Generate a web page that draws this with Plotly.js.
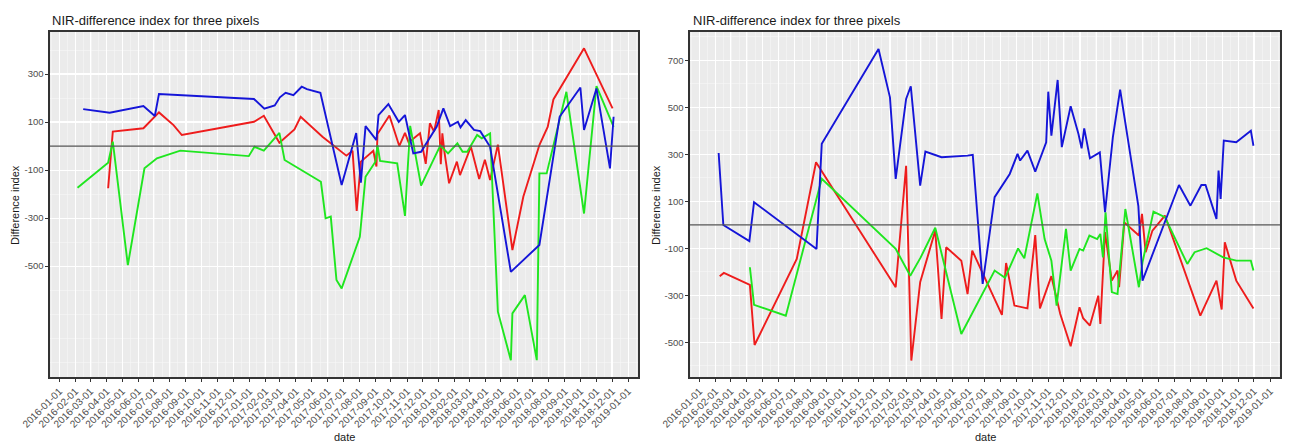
<!DOCTYPE html>
<html>
<head>
<meta charset="utf-8">
<script src="https://cdn.plot.ly/plotly-3.0.1.min.js"></script>
<style>
  html, body { margin: 0; padding: 0; background: #ffffff; }
  #chart { width: 1289px; height: 445px; }
</style>
</head>
<body>
<div id="chart"></div>
<script>
// ---- Left panel: NIR-difference index, three pixels ----
const leftBlueDates = ['2016-02-16','2016-04-07','2016-06-11','2016-07-03','2016-07-11','2017-01-10','2017-01-30','2017-02-19','2017-03-01','2017-03-12','2017-03-27','2017-04-12','2017-04-22','2017-05-18','2017-06-28','2017-07-26','2017-08-04','2017-08-13','2017-09-03','2017-09-07','2017-09-26','2017-10-16','2017-10-28','2017-11-13','2017-11-28','2017-12-28','2018-01-10','2018-01-23','2018-02-07','2018-02-12','2018-02-22','2018-03-10','2018-03-22','2018-04-10','2018-05-20','2018-07-14','2018-08-22','2018-10-01','2018-10-08','2018-11-01','2018-11-27','2018-12-04'];
const leftBlueValues = [154,139,167,125,217,196,156,169,203,222,212,247,237,222,-162,54,-153,83,25,129,175,101,129,-31,-24,80,157,83,101,78,108,67,62,-3,-524,-412,122,244,67,240,-93,122];

const leftRedDates = ['2016-04-04','2016-04-09','2016-04-13','2016-06-11','2016-07-11','2016-08-08','2016-08-24','2017-01-10','2017-01-29','2017-02-28','2017-03-29','2017-04-10','2017-05-22','2017-07-07','2017-07-19','2017-07-27','2017-08-04','2017-08-28','2017-09-03','2017-09-05','2017-09-28','2017-10-17','2017-10-28','2017-11-04','2017-11-26','2017-12-07','2017-12-15','2017-12-23','2018-01-01','2018-01-05','2018-01-08','2018-01-12','2018-01-21','2018-02-05','2018-02-11','2018-03-04','2018-03-20','2018-03-31','2018-04-10','2018-04-25','2018-05-23','2018-06-13','2018-07-14','2018-07-30','2018-08-10','2018-10-08','2018-12-02'];
const leftRedValues = [-176,-45,60,74,140,87,46,101,126,14,69,122,39,-40,-20,-270,-65,-20,-85,50,127,0,55,15,53,-74,95,60,150,-76,53,-24,-155,-65,-121,-3,-137,-57,-142,6,-433,-211,4,80,194,407,157];

const leftGreenDates = ['2016-02-05','2016-04-04','2016-04-13','2016-05-12','2016-06-13','2016-07-07','2016-08-21','2016-12-31','2017-01-11','2017-01-29','2017-02-28','2017-03-10','2017-05-19','2017-05-28','2017-06-07','2017-06-18','2017-06-28','2017-08-02','2017-08-13','2017-09-01','2017-09-05','2017-09-10','2017-10-13','2017-10-28','2017-11-07','2017-11-28','2018-01-04','2018-01-19','2018-02-06','2018-02-16','2018-02-25','2018-03-16','2018-03-25','2018-04-10','2018-04-25','2018-05-20','2018-05-23','2018-06-16','2018-07-09','2018-07-14','2018-07-28','2018-09-04','2018-10-08','2018-11-01','2018-12-04'];
const leftGreenValues = [-174,-69,18,-496,-93,-51,-19,-42,-3,-19,55,-58,-149,-301,-294,-558,-593,-378,-128,-65,4,-62,-72,-291,84,-165,2,-31,11,-24,-24,46,32,53,-690,-892,-697,-621,-892,-114,-114,226,-281,250,80];

// ---- Right panel: NIR-difference index, three pixels ----
const rightBlueDates = ['2016-02-07','2016-02-16','2016-04-06','2016-04-15','2016-08-13','2016-08-23','2016-12-10','2017-01-01','2017-01-12','2017-02-01','2017-02-10','2017-02-28','2017-03-10','2017-04-10','2017-05-30','2017-06-09','2017-06-28','2017-07-21','2017-08-19','2017-09-03','2017-09-08','2017-09-22','2017-10-07','2017-10-28','2017-11-01','2017-11-07','2017-11-19','2017-11-27','2017-12-14','2017-12-29','2018-01-04','2018-01-09','2018-01-20','2018-02-08','2018-02-18','2018-03-05','2018-03-19','2018-04-23','2018-05-01','2018-07-10','2018-08-01','2018-08-22','2018-08-30','2018-09-20','2018-09-24','2018-09-28','2018-10-04','2018-10-28','2018-11-25','2018-11-30'];
const rightBlueValues = [306,0,-69,97,-102,345,749,543,196,536,590,167,312,288,295,298,-251,118,217,302,274,316,227,352,567,380,617,331,505,387,326,411,284,309,54,373,576,80,-237,170,82,170,170,26,231,111,359,352,401,337];

const rightRedDates = ['2016-02-09','2016-02-17','2016-04-07','2016-04-16','2016-07-06','2016-08-12','2017-01-12','2017-02-01','2017-02-11','2017-02-28','2017-03-29','2017-04-10','2017-04-19','2017-05-18','2017-05-30','2017-06-08','2017-08-04','2017-08-12','2017-08-28','2017-09-22','2017-10-07','2017-10-16','2017-11-07','2017-11-24','2017-12-14','2017-12-31','2018-01-07','2018-01-20','2018-02-05','2018-02-09','2018-02-18','2018-03-03','2018-03-14','2018-03-17','2018-03-27','2018-04-24','2018-04-30','2018-05-07','2018-05-20','2018-06-13','2018-08-20','2018-09-20','2018-09-30','2018-10-06','2018-10-28','2018-11-30'];
const rightRedValues = [-218,-204,-255,-511,-145,267,-265,252,-577,-244,-24,-400,-95,-152,-294,-109,-383,-162,-343,-355,-43,-355,-218,-379,-516,-350,-397,-428,-301,-421,-31,-237,-194,-265,11,-45,47,-116,-24,40,-386,-237,-360,-74,-237,-355];

const rightGreenDates = ['2016-04-07','2016-04-15','2016-06-15','2016-08-23','2017-01-12','2017-02-09','2017-03-01','2017-03-29','2017-05-18','2017-07-21','2017-08-10','2017-09-04','2017-09-16','2017-10-11','2017-10-25','2017-11-07','2017-11-17','2017-12-05','2017-12-14','2017-12-31','2018-01-07','2018-01-19','2018-02-03','2018-02-09','2018-02-14','2018-02-19','2018-03-03','2018-03-14','2018-03-29','2018-04-11','2018-04-24','2018-05-01','2018-05-22','2018-06-13','2018-07-26','2018-08-09','2018-09-01','2018-10-03','2018-10-28','2018-11-25','2018-11-30'];
const rightGreenValues = [-180,-340,-386,196,-102,-216,-138,-12,-464,-194,-225,-100,-142,134,-60,-152,-343,-17,-194,-102,-109,-45,-60,-38,-138,54,-286,-294,68,-102,-265,-159,57,33,-166,-116,-99,-138,-152,-152,-194];

const leftTickVals = [300, 100, -100, -300, -500];
const rightTickVals = [700, 500, 300, 100, -100, -300, -500];
const panelTitle = 'NIR-difference index for three pixels';

const W = 1289, H = 445;
const FONT = 'Liberation Sans, Arial, sans-serif';
const COLORS = { red: '#ee1c1c', green: '#1fe61f', blue: '#1515d8' };

function line(x, y, color, xa, ya) {
  return { type: 'scatter', mode: 'lines', x: x, y: y, xaxis: xa, yaxis: ya,
           line: { color: color, width: 1.9 }, hoverinfo: 'skip', showlegend: false };
}

const traces = [
  line(leftRedDates, leftRedValues, COLORS.red, 'x', 'y'),
  line(leftGreenDates, leftGreenValues, COLORS.green, 'x', 'y'),
  line(leftBlueDates, leftBlueValues, COLORS.blue, 'x', 'y'),
  line(rightRedDates, rightRedValues, COLORS.red, 'x2', 'y2'),
  line(rightGreenDates, rightGreenValues, COLORS.green, 'x2', 'y2'),
  line(rightBlueDates, rightBlueValues, COLORS.blue, 'x2', 'y2')
];

const yDomain = [1 - 377 / H, 1 - 32 / H];

function xAxis(domain, anchor) {
  return {
    domain: domain, anchor: anchor, type: 'date',
    range: ['2015-12-14', '2019-01-20'],
    tick0: '2016-01-01', dtick: 'M1', tickformat: '%Y-%m-%d', tickangle: -45,
    tickfont: { family: FONT, size: 10, color: '#4d4d4d' },
    ticks: 'outside', ticklen: 3, tickcolor: '#333333', tickwidth: 1,
    showgrid: true, gridcolor: '#ffffff', gridwidth: 1.1,
    minor: { showgrid: true, gridcolor: '#f7f7f7', gridwidth: 0.6,
             tick0: '2016-01-16 12:00', dtick: 15.22 * 86400000 },
    showline: true, mirror: true, linecolor: '#333333', linewidth: 1.6,
    zeroline: false, automargin: false, fixedrange: true
  };
}

function yAxis(domain, anchor, range, vals) {
  return {
    domain: domain, anchor: anchor, range: range,
    tickvals: vals, ticktext: vals.map(String),
    tickfont: { family: FONT, size: 9.5, color: '#4d4d4d' },
    ticks: 'outside', ticklen: 3, tickcolor: '#333333', tickwidth: 1,
    showgrid: true, gridcolor: '#ffffff', gridwidth: 1.1,
    minor: { showgrid: true, gridcolor: '#f7f7f7', gridwidth: 0.6, tick0: 0, dtick: 100 },
    showline: true, mirror: true, linecolor: '#333333', linewidth: 1.6,
    zeroline: false, automargin: false, fixedrange: true
  };
}

function text(str, px, py, opts) {
  return Object.assign({ text: str, xref: 'paper', yref: 'paper', x: px / W, y: 1 - py / H,
    showarrow: false, font: { family: FONT, size: 11, color: '#1a1a1a' } }, opts || {});
}

const layout = {
  width: W, height: H,
  margin: { l: 0, r: 0, t: 0, b: 0 },
  paper_bgcolor: '#ffffff', plot_bgcolor: '#ebebeb',
  showlegend: false,
  xaxis: xAxis([50 / W, 638 / W], 'y'),
  yaxis: yAxis(yDomain, 'x', [-962, 475], leftTickVals),
  xaxis2: xAxis([690 / W, 1280 / W], 'y2'),
  yaxis2: yAxis(yDomain, 'x2', [-647, 821], rightTickVals),
  shapes: [
    { type: 'line', xref: 'x domain', yref: 'y', x0: 0, x1: 1, y0: 0, y1: 0,
      line: { color: '#555555', width: 1.3 }, layer: 'above' },
    { type: 'line', xref: 'x2 domain', yref: 'y2', x0: 0, x1: 1, y0: 0, y1: 0,
      line: { color: '#555555', width: 1.3 }, layer: 'above' }
  ],
  annotations: [
    text(panelTitle, 50, 20, { xanchor: 'left', yanchor: 'middle', font: { family: FONT, size: 13, color: '#1a1a1a' } }),
    text(panelTitle, 691, 20, { xanchor: 'left', yanchor: 'middle', font: { family: FONT, size: 13, color: '#1a1a1a' } }),
    text('Difference index', 15, 205, { textangle: -90, xanchor: 'center', yanchor: 'middle' }),
    text('Difference index', 656, 205, { textangle: -90, xanchor: 'center', yanchor: 'middle' }),
    text('date', 344, 437, { xanchor: 'center', yanchor: 'middle' }),
    text('date', 985, 437, { xanchor: 'center', yanchor: 'middle' })
  ]
};

Plotly.newPlot('chart', traces, layout, { staticPlot: true, displayModeBar: false });
</script>
</body>
</html>
